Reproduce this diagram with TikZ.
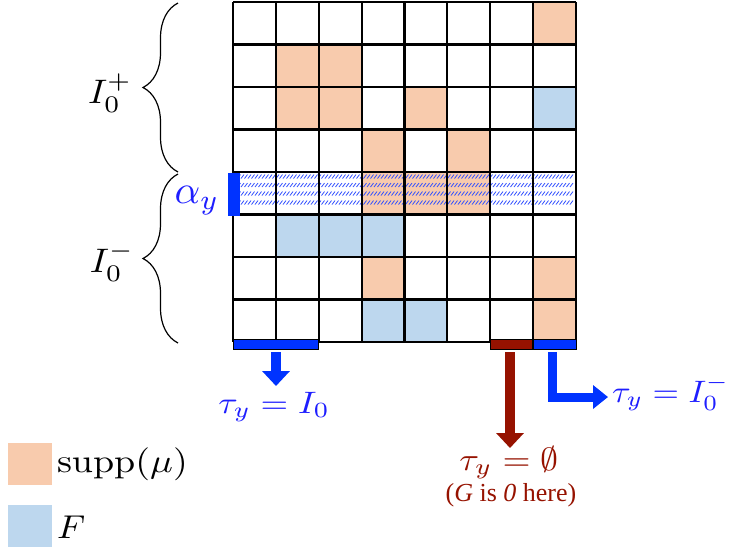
\documentclass[tikz,border=0pt]{standalone}
\usepackage{fontspec}
\newfontfamily\notefont{Liberation Serif}
\usetikzlibrary{arrows.meta,decorations.pathreplacing,calc}
\definecolor{suppc}{HTML}{F8CBAD}
\definecolor{fc}{HTML}{BDD7EE}
\definecolor{brightblue}{RGB}{0,51,255}
\definecolor{textblue}{RGB}{30,30,255}
\definecolor{darkred}{RGB}{150,18,0}
\definecolor{hatchblue}{RGB}{50,80,255}
\newcommand\sbx[3]{\scalebox{#1}[#2]{#3}}
\tikzset{
  gridline/.style={line width=2.2pt, black},
  lbl/.style={inner sep=0pt, outer sep=0pt},
  bracestyle/.style={line width=1.2pt, decorate, decoration={brace, amplitude=35pt}},
  legbox/.style={minimum width=44pt, minimum height=42pt, inner sep=0pt, draw=none},
  barstyle/.style={draw=black, line width=0.8pt},
}
\begin{document}
\begin{tikzpicture}[x=1pt,y=-1pt]
\useasboundingbox (0,0) rectangle (730,550);
\def\W{42.875}
\def\H{42.5}
% coloured cells
\foreach \c/\r/\col in {7/0/suppc, 1/1/suppc, 2/1/suppc, 1/2/suppc, 2/2/suppc, 4/2/suppc, 7/2/fc,
  3/3/suppc, 5/3/suppc, 3/4/suppc, 4/4/suppc, 5/4/suppc, 1/5/fc, 2/5/fc, 3/5/fc,
  3/6/suppc, 7/6/suppc, 3/7/fc, 4/7/fc, 7/7/suppc}
  \fill[\col] ({233+\c*\W},{2+\r*\H}) rectangle ++(\W,\H);
% hatching of row alpha_y
\draw[hatchblue, line width=0.8pt]
  \foreach \yy in {178.5,187,195.5,204.5} {
    \foreach \xx in {234,237.5,...,572} { (\xx,\yy) -- ++(3,-4) }
  };
% grid
\foreach \i in {0,...,8} {
  \draw[gridline] ({233+\i*\W},2) -- ({233+\i*\W},342);
  \draw[gridline] (233,{2+\i*\H}) -- (576,{2+\i*\H});
}
% bars
\fill[brightblue] (228,173) rectangle (240,216);
\filldraw[barstyle, fill=brightblue] (233,339) rectangle (318,349);
\filldraw[barstyle, fill=darkred] (490,339) rectangle (532.5,349);
\filldraw[barstyle, fill=brightblue] (533.5,339) rectangle (576,349);
% braces
\coordinate (bTop) at (178,3);
\coordinate (bMid1) at (178,172);
\coordinate (bMid2) at (178,174);
\coordinate (bBot) at (178,343);
\draw[bracestyle] (bMid1) -- (bTop);
\draw[bracestyle] (bBot) -- (bMid2);
% labels
\node[lbl, anchor=base] (Iplus) at (110,103) {\sbx{3.7}{3.4}{$I_0^+$}};
\node[lbl, anchor=base] (Iminus) at (112,272) {\sbx{3.7}{3.4}{$I_0^-$}};
\node[lbl, anchor=base, text=textblue] (alpha) at (197,203) {\sbx{4.0}{4.0}{$\alpha_y$}};
% arrows
\coordinate (sA) at (276,352);
\coordinate (sB) at (510,352);
\coordinate (sC) at (552,352);
\node[lbl, anchor=base, text=textblue] (tauA) at (274,413) {\sbx{3.55}{3.1}{$\tau_y = I_0$}};
\node[lbl, anchor=base, text=darkred] (tauB) at (509,470) {\sbx{3.6}{3.2}{$\tau_y = \emptyset$}};
\node[lbl, font=\notefont\fontsize{26}{30}\selectfont, anchor=base, text=darkred] (note) at (511,501) {(\textit{G} is \textit{0} here)};
\node[lbl, anchor=base west, text=textblue] (tauC) at (612,402) {\sbx{3.4}{3.1}{$\tau_y = I_0^-$}};
\coordinate (eA) at (276,386);
\coordinate (eB) at (510,448);
\coordinate (eC) at (608,397);
\draw[brightblue, line width=10pt, -{Triangle[width=27pt,length=15pt]}] (sA) -- (eA);
\draw[darkred, line width=10pt, -{Triangle[width=27pt,length=15pt]}] (sB) -- (eB);
\draw[brightblue, line width=9pt, line join=miter, -{Triangle[width=23pt,length=15pt]}] (sC) |- (eC);
% legend
\node[legbox, fill=suppc] (sqS) at (30,464) {};
\node[legbox, fill=fc] (sqF) at (30,525.5) {};
\node[lbl, anchor=base west] (legS) at (57,472) {\sbx{3.8}{3.3}{$\mathrm{supp}(\mu)$}};
\node[lbl, anchor=base west] (legF) at (57,538) {\sbx{3.6}{3.3}{$F$}};
\end{tikzpicture}
\end{document}
